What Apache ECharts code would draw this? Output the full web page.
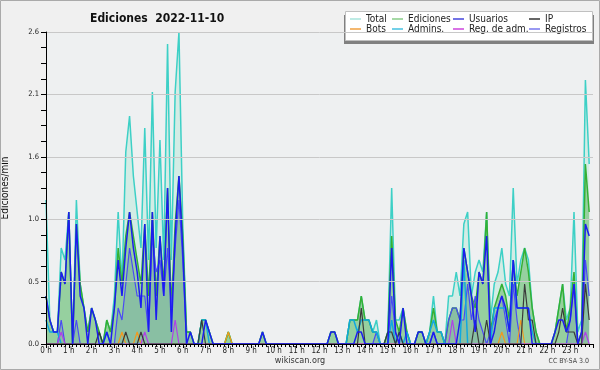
<!DOCTYPE html>
<html>
<head>
<meta charset="utf-8">
<script src="https://cdn.jsdelivr.net/npm/echarts@6/dist/echarts.min.js"></script>
<style>
html,body{margin:0;padding:0;background:#f0f0f0;}
#c{width:600px;height:370px;}
</style>
</head>
<body>
<div id="c"></div>
<script>
// 10-minute bins (144 per day), values in edits/min
const hourLabels = ['0 h','1 h','2 h','3 h','4 h','5 h','6 h','7 h','8 h','9 h','10 h','11 h',
  '12 h','13 h','14 h','15 h','16 h','17 h','18 h','19 h','20 h','21 h','22 h','23 h'];

const total = [
  1.2,0.2,0.1,0.1,0.8,0.7,1.1,0,1.2,0.5,0.3,0.1,
  0.3,0.2,0.1,0,0.2,0.1,0.4,1.1,0.5,1.6,1.9,1.4,
  1.1,0.8,1.8,0.7,2.1,0.8,1.7,0.7,2.5,0.7,2.1,2.6,
  1.0,0.1,0.1,0,0,0.2,0.2,0.1,0,0,0,0,
  0.1,0,0,0,0,0,0,0,0,0.1,0,0,
  0,0,0,0,0,0,0,0,0,0,0,0,
  0,0,0,0.1,0.1,0,0,0,0.2,0.2,0.2,0.4,
  0.2,0.2,0.1,0.2,0,0,0.1,1.3,0.2,0.2,0.3,0.1,
  0,0,0.1,0.1,0,0.1,0.4,0.1,0.1,0,0.4,0.4,
  0.6,0.4,1.0,1.1,0.4,0.6,0.7,0.6,1.1,0.2,0.5,0.6,
  0.8,0.5,0.4,1.3,0.5,0.7,0.8,0.7,0.3,0.1,0,0,
  0,0,0.1,0.3,0.5,0.2,0.3,1.1,0.1,0.2,2.2,1.5
];
const ediciones = [
  0.4,0.2,0.1,0.1,0.6,0.5,1.1,0,1.0,0.5,0.3,0.1,
  0.3,0.2,0.1,0,0.2,0.1,0.3,0.8,0.5,0.9,1.1,0.9,
  0.7,0.5,1.0,0.4,1.1,0.4,0.9,0.5,1.3,0.3,1.0,1.4,
  0.9,0.1,0.1,0,0,0.2,0.2,0.1,0,0,0,0,
  0.1,0,0,0,0,0,0,0,0,0.1,0,0,
  0,0,0,0,0,0,0,0,0,0,0,0,
  0,0,0,0.1,0.1,0,0,0,0.2,0.2,0.2,0.4,
  0.2,0.2,0.1,0.1,0,0,0.1,0.9,0.2,0.1,0.3,0.1,
  0,0,0.1,0.1,0,0.1,0.3,0.1,0.1,0,0.2,0.3,
  0.3,0.2,0.8,0.6,0.4,0.3,0.6,0.5,1.1,0.1,0.3,0.4,
  0.5,0.4,0.2,0.7,0.4,0.6,0.8,0.6,0.3,0.1,0,0,
  0,0,0.1,0.3,0.5,0.1,0.3,0.6,0,0.1,1.5,1.1
];
const usuarios = [
  0.4,0.2,0.1,0.1,0.6,0.5,1.1,0,1.0,0.4,0.3,0,
  0.3,0.2,0,0,0.1,0,0.3,0.7,0.4,0.8,1.1,0.8,
  0.6,0.3,1.0,0.1,1.1,0.2,0.9,0.4,1.3,0.1,0.9,1.4,
  0.8,0,0.1,0,0,0,0.2,0.1,0,0,0,0,
  0,0,0,0,0,0,0,0,0,0.1,0,0,
  0,0,0,0,0,0,0,0,0,0,0,0,
  0,0,0,0.1,0.1,0,0,0,0,0,0.1,0.1,
  0,0,0,0,0,0,0,0.8,0.1,0,0.3,0,
  0,0,0.1,0.1,0,0,0.1,0,0,0,0,0,
  0,0.2,0.8,0.6,0.4,0.1,0.6,0.5,0.9,0,0.1,0.3,
  0.4,0.3,0.1,0.7,0.3,0.3,0.3,0.3,0,0,0,0,
  0,0,0.1,0.2,0.2,0.1,0.2,0.5,0,0.1,1.0,0.9
];
const ip = [
  0,0,0,0,0,0,0,0,0,0,0,0,
  0,0,0.1,0,0,0,0,0,0,0.1,0,0,
  0,0.1,0,0,0,0,0,0,0,0,0,0,
  0,0,0,0,0,0.2,0,0,0,0,0,0,
  0,0,0,0,0,0,0,0,0,0,0,0,
  0,0,0,0,0,0,0,0,0,0,0,0,
  0,0,0,0,0,0,0,0,0,0,0,0.3,
  0,0,0,0,0,0,0.1,0.1,0,0.1,0,0,
  0,0,0,0,0,0,0,0,0,0,0,0,
  0,0,0,0,0,0.2,0,0,0.2,0,0,0,
  0,0,0,0,0,0,0.5,0.2,0.2,0,0,0,
  0,0,0,0.1,0.3,0.1,0.1,0.1,0,0,0.5,0.2
];
const bots = [
  0,0,0,0,0,0,0,0,0,0,0,0,
  0,0,0,0,0,0,0,0,0.1,0,0,0,
  0.1,0,0,0,0,0,0,0,0,0,0,0,
  0,0,0,0,0,0,0,0,0,0,0,0,
  0.1,0,0,0,0,0,0,0,0,0,0,0,
  0,0,0,0,0,0,0,0,0,0,0,0,
  0,0,0,0,0,0,0,0,0,0,0,0,
  0,0,0,0,0,0,0,0,0,0,0,0,
  0,0,0,0,0,0,0,0,0,0,0,0,
  0,0,0,0,0,0,0,0,0,0,0,0,
  0.1,0,0,0,0,0.2,0,0,0,0,0,0,
  0,0,0,0,0,0,0,0,0,0,0,0
];
const admins = [
  0.2,0.1,0.1,0.1,0,0,0,0,0,0,0,0,
  0,0,0,0,0.1,0,0,0,0,0,0,0,
  0,0,0,0,0,0,0,0,0,0,0,0,
  0,0,0,0,0,0.2,0.2,0,0,0,0,0,
  0,0,0,0,0,0,0,0,0,0,0,0,
  0,0,0,0,0,0,0,0,0,0,0,0,
  0,0,0,0,0,0,0,0,0.2,0.2,0.1,0.2,
  0.2,0.2,0.1,0.1,0,0,0,0.2,0,0.1,0,0.1,
  0,0,0,0,0,0.1,0.2,0.1,0.1,0,0,0,
  0,0,0.7,0,0,0,0,0,0,0,0.3,0.3,
  0.3,0.3,0.1,0.7,0.3,0.3,0.3,0.3,0.1,0,0,0,
  0,0,0,0,0,0,0,0,0,0,0,0
];
const regAdm = [
  0,0,0,0,0.1,0,0,0,0,0,0,0,
  0,0,0,0,0,0,0,0,0,0,0,0,
  0,0,0.1,0,0,0,0,0,0,0,0.2,0,
  0,0,0,0,0,0,0,0,0,0,0,0,
  0,0,0,0,0,0,0,0,0,0,0,0,
  0,0,0,0,0,0,0,0,0,0,0,0,
  0,0,0,0,0,0,0,0,0,0,0,0,
  0,0,0,0,0,0,0,0,0,0,0,0,
  0,0,0,0,0,0,0,0,0,0,0,0.2,
  0,0,0,0,0,0,0,0,0,0,0,0,
  0,0,0,0,0,0,0,0,0,0,0,0,
  0,0,0,0,0,0,0,0,0,0,0.1,0
];
const registros = [
  0,0,0,0,0.2,0,0,0,0.2,0,0,0,
  0,0,0,0,0,0,0,0.3,0.2,0.5,0.8,0.6,
  0.4,0.4,0.4,0.1,0.9,0.6,0.7,0.4,0.8,0.3,0.8,1.2,
  0.7,0,0,0,0,0,0,0,0,0,0,0,
  0,0,0,0,0,0,0,0,0,0,0,0,
  0,0,0,0,0,0,0,0,0,0,0,0,
  0,0,0,0,0,0,0,0,0,0,0,0,
  0,0,0,0.1,0,0,0,0.4,0.1,0,0,0,
  0,0,0,0,0,0,0.1,0,0,0,0.2,0.3,
  0.3,0.2,0.2,0.5,0.2,0.4,0.2,0.1,0,0.1,0.2,0.3,
  0.4,0.2,0,0.5,0.2,0,0,0,0,0,0,0,
  0,0,0,0,0,0,0.2,0.5,0,0,0.7,0.4
];

const FONT = '"DejaVu Sans Condensed","Liberation Sans","DejaVu Sans",sans-serif';
const pts = arr => arr.map((v, i) => [i, v]);

function lineSeries(name, data, color, width, area, z) {
  const s = {
    name, type: 'line', data: pts(data), symbol: 'none', showSymbol: false,
    lineStyle: { color, width }, itemStyle: { color }, z: z, animation: false,
    emphasis: { disabled: true }
  };
  if (area) s.areaStyle = { color: area, opacity: 1 };
  return s;
}

const chart = echarts.init(document.getElementById('c'), null, { renderer: 'canvas' });

function legendCol(left, names, colors) {
  return {
    orient: 'vertical', left, top: 14, itemGap: 0, itemWidth: 11, itemHeight: 1.5,
    icon: 'rect', selectedMode: false, padding: 0,
    textStyle: { fontSize: 10, color: '#222', fontFamily: FONT, lineHeight: 10, padding: [0,0,0,0] },
    data: names.map((n, k) => ({ name: n, itemStyle: { color: colors[k] } }))
  };
}

chart.setOption({
  backgroundColor: '#f0f0f0',
  animation: false,
  title: {
    text: 'Ediciones  2022-11-10', left: 85, top: 8,
    textStyle: { fontSize: 12, fontWeight: 'bold', color: '#111', fontFamily: FONT }
  },
  legend: [
    legendCol(350, ['Total', 'Bots'], ['#a8e4dc', '#f0a040']),
    legendCol(392, ['Ediciones', 'Admins.'], ['#88cc88', '#44c0e0']),
    legendCol(453, ['Usuarios', 'Reg. de adm.'], ['#4444dd', '#cc44dd']),
    legendCol(529, ['IP', 'Registros'], ['#333333', '#7777ee'])
  ],
  graphic: [
    { type: 'rect', shape: { x: 0.5, y: 0.5, width: 599, height: 369 },
      style: { fill: 'none', stroke: '#aaaaaa', lineWidth: 1 }, z: 100, silent: true },
    { type: 'rect', shape: { x: 344, y: 15, width: 250, height: 29 },
      style: { fill: '#808080' }, z: 0, silent: true },
    { type: 'rect', shape: { x: 345.5, y: 11.5, width: 247, height: 29 },
      style: { fill: '#ffffff', stroke: '#c0c0c0', lineWidth: 1 }, z: 0, silent: true },
    { type: 'text', left: 'center', top: 356,
      style: { text: 'wikiscan.org', fontSize: 9, fill: '#333', fontFamily: FONT }, silent: true },
    { type: 'text', right: 11, top: 358,
      style: { text: 'CC BY-SA 3.0', fontSize: 7, fill: '#444', fontFamily: FONT }, silent: true }
  ],
  grid: {
    left: 46, right: 7, top: 32, bottom: 26, containLabel: false, outerBoundsMode: 'none',
    show: true, backgroundColor: '#eef0f1', borderWidth: 0
  },
  xAxis: {
    type: 'value', min: 0, max: 144, interval: 6, z: 10,
    axisLine: { show: true, onZero: false, lineStyle: { color: '#000', width: 1 } },
    axisTick: { show: true, length: 4, lineStyle: { color: '#000' } },
    minorTick: { show: true, splitNumber: 6, length: 3, lineStyle: { color: '#000' } },
    splitLine: { show: false },
    axisLabel: {
      fontSize: 8, margin: 3, color: '#222', fontFamily: FONT,
      formatter: v => (v < 144 ? hourLabels[Math.round(v / 6)] : '')
    }
  },
  yAxis: {
    type: 'value', min: 0, max: 2.6, interval: 0.52, z: 10,
    name: 'Ediciones/min', nameLocation: 'middle', nameGap: 36, nameRotate: 90,
    nameTextStyle: { fontSize: 10, color: '#111', fontFamily: FONT },
    axisLine: { show: true, lineStyle: { color: '#000', width: 1 } },
    axisTick: { show: true, length: 5, lineStyle: { color: '#000' } },
    minorTick: { show: true, splitNumber: 4, length: 5, lineStyle: { color: '#000' } },
    splitLine: { show: true, lineStyle: { color: '#c8c8c8', width: 1 } },
    axisLabel: { fontSize: 7.5, margin: 7, color: '#222', fontFamily: FONT, formatter: v => v.toFixed(1) }
  },
  series: [
    lineSeries('Total', total, '#3dd0c6', 1.5, 'rgba(160,230,205,0.35)', 2),
    lineSeries('Ediciones', ediciones, '#34b034', 1.5, 'rgba(90,180,90,0.5)', 3),
    lineSeries('Registros', registros, '#4a4af5', 1.2, 'rgba(50,70,200,0.12)', 4),
    lineSeries('Admins.', admins, '#10a8e0', 1.5, null, 5),
    lineSeries('Bots', bots, '#f09a20', 1.2, null, 5),
    lineSeries('Reg. de adm.', regAdm, '#b040e8', 1.2, null, 5),
    lineSeries('IP', ip, '#3a3a3a', 1.2, null, 6),
    lineSeries('Usuarios', usuarios, '#1c1cf0', 1.5, null, 7)
  ]
});
</script>
</body>
</html>
